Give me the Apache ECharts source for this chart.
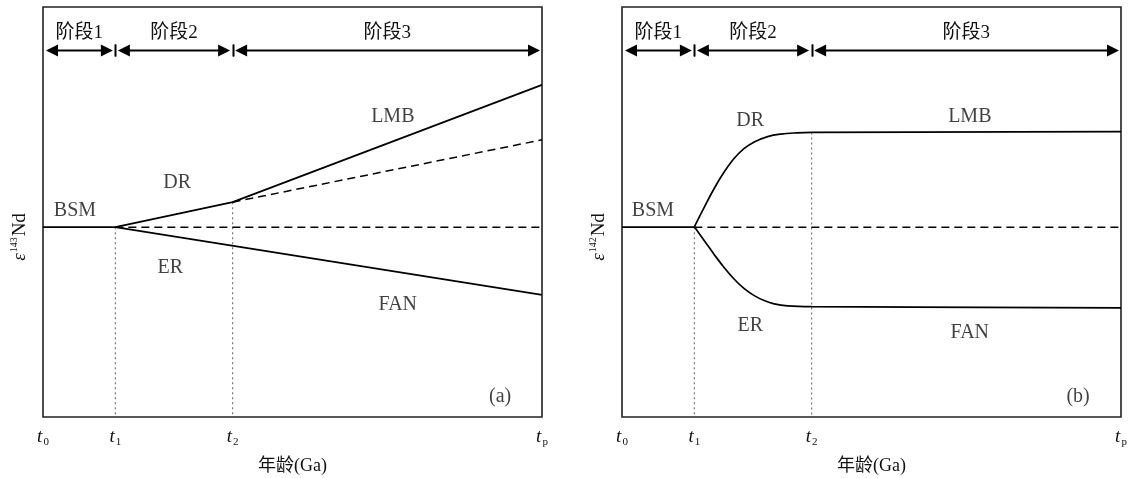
<!DOCTYPE html>
<html>
<head>
<meta charset="utf-8">
<script src="https://cdn.jsdelivr.net/npm/echarts@6/dist/echarts.min.js"></script>
<style>html,body{margin:0;padding:0;background:#fff}#c{width:1133px;height:478px}</style>
</head>
<body>
<div id="c"></div>
<script>
// ---- data ----
const stageNames = ['阶段1', '阶段2', '阶段3'];
const stageBounds = [0, 14.5, 38, 100];
const tickValues = [0, 14.5, 38, 100];
const tickSubs = ['0', '1', '2', 'p'];
const xAxisTitle = '年龄(Ga)';
const panelYNames = ['143', '142'];

// panel (a): ε143Nd
const aBSM = [[0, 46.3], [14.5, 46.3]];
const aBaseDash = [[14.5, 46.3], [100, 46.3]];
const aUpper = [[14.5, 46.3], [38, 52.4], [100, 81.0]];
const aUpperDash = [[38, 52.4], [100, 67.6]];
const aLower = [[14.5, 46.3], [100, 29.8]];
const aGuide1 = [[14.5, 46.3], [14.5, 0]];
const aGuide2 = [[38, 52.4], [38, 0]];
const aLabelNames = ['BSM', 'DR', 'ER', 'LMB', 'FAN', '(a)'];
const aLabelAt = [[6.4, 50.2], [26.9, 57.1], [25.5, 36.3], [70.1, 73.2], [71.1, 27.3], [91.6, 4.9]];

// panel (b): ε142Nd
const bBSM = [[0, 46.3], [14.5, 46.3]];
const bBaseDash = [[14.5, 46.3], [100, 46.3]];
const bUpper = [[14.5, 46.4], [16.5, 51.2], [18.5, 55.8], [20.5, 59.8], [22.5, 63.1], [24.5, 65.5],
  [26.5, 67.1], [29.2, 68.4], [31.8, 69.0], [35, 69.3], [38, 69.4], [100, 69.6]];
const bLower = [[14.5, 46.4], [16.5, 43.0], [18.5, 39.6], [20.5, 36.4], [22.5, 33.6], [24.5, 31.3],
  [26.5, 29.6], [28.5, 28.4], [30.5, 27.6], [33.2, 27.1], [38, 26.9], [100, 26.6]];
const bGuide1 = [[14.5, 46.3], [14.5, 0]];
const bGuide2 = [[38, 69.4], [38, 0]];
const bLabelNames = ['BSM', 'DR', 'ER', 'LMB', 'FAN', '(b)'];
const bLabelAt = [[6.2, 50.2], [25.7, 72.2], [25.7, 22.2], [69.7, 73.2], [69.7, 20.5], [91.4, 4.9]];

// ---- styling / layout ----
const SERIF = '"Liberation Serif", "Noto Sans CJK SC", serif';
const INK = '#111';
const ARROW_Y = 89.5;
const STAGE_LABEL_Y = 93.6;

const chart = echarts.init(document.getElementById('c'), null, {renderer: 'canvas'});

function xAxisFor(gi) {
  return {
    gridIndex: gi, type: 'value', min: 0, max: 100,
    axisLine: {show: false}, axisTick: {show: false}, splitLine: {show: false},
    axisLabel: {
      customValues: tickValues, margin: 9,
      formatter: function (v) {
        const i = tickValues.indexOf(v);
        return '{t|t}{s|' + (i >= 0 ? tickSubs[i] : '') + '}';
      },
      rich: {
        t: {fontFamily: SERIF, fontStyle: 'italic', fontSize: 19, color: INK, lineHeight: 22},
        s: {fontFamily: SERIF, fontSize: 11, color: INK, lineHeight: 22, padding: [10, 0, 0, 1]}
      }
    },
    name: xAxisTitle, nameLocation: 'middle', nameGap: 40,
    nameTextStyle: {fontFamily: SERIF, fontSize: 18, color: INK}
  };
}
function yAxisFor(gi, sup) {
  return {
    gridIndex: gi, type: 'value', min: 0, max: 100,
    axisLine: {show: false}, axisTick: {show: false}, splitLine: {show: false}, axisLabel: {show: false},
    name: '{e|ε}{s|' + sup + '}{n|Nd}', nameLocation: 'middle', nameGap: 12, nameRotate: 90,
    nameTextStyle: {
      padding: [0, 50, 0, 0],
      rich: {
        e: {fontFamily: SERIF, fontStyle: 'italic', fontSize: 19, color: INK, lineHeight: 22},
        s: {fontFamily: SERIF, fontSize: 10, color: INK, lineHeight: 22, padding: [0, 1, 11, 1]},
        n: {fontFamily: SERIF, fontSize: 19, color: INK, lineHeight: 22}
      }
    }
  };
}
function solid(gi, data, smooth) {
  return {type: 'line', xAxisIndex: gi, yAxisIndex: gi, data: data, showSymbol: false, symbol: 'none',
    smooth: smooth || false, silent: true, lineStyle: {color: '#000', width: 1.7}, z: 3};
}
function dashed(gi, data) {
  return {type: 'line', xAxisIndex: gi, yAxisIndex: gi, data: data, showSymbol: false, symbol: 'none',
    silent: true, lineStyle: {color: '#000', width: 1.5, type: [8, 5]}, z: 2};
}
function guide(gi, data) {
  return {type: 'line', xAxisIndex: gi, yAxisIndex: gi, data: data, showSymbol: false, symbol: 'none',
    silent: true, lineStyle: {color: '#777', width: 1.2, type: [2, 3]}, z: 1};
}
function labels(gi, names, at) {
  return {type: 'scatter', xAxisIndex: gi, yAxisIndex: gi, symbolSize: 0, silent: true,
    data: names.map((n, i) => ({name: n, value: at[i]})),
    label: {show: true, position: 'inside', formatter: '{b}', fontFamily: SERIF, fontSize: 20, color: INK}};
}
function stages(gi) {
  const data = stageNames.map((n, i) => [stageBounds[i], stageBounds[i + 1], i]);
  return {
    type: 'custom', xAxisIndex: gi, yAxisIndex: gi, silent: true, z: 5, data: data,
    renderItem: function (params, api) {
      const x0 = api.value(0), x1 = api.value(1), idx = api.value(2);
      const p0 = api.coord([x0, ARROW_Y]), p1 = api.coord([x1, ARROW_Y]);
      const pl = api.coord([(x0 + x1) / 2, STAGE_LABEL_Y]);
      const y = Math.round(p0[1]) + 0.5;
      const gapL = x0 <= 0 ? 3 : 2.5, gapR = x1 >= 100 ? 2 : 2.5;
      const L = 12, H = 6;
      const lt = p0[0] + gapL, rt = p1[0] - gapR;
      const children = [
        {type: 'line', shape: {x1: lt + L - 1, y1: y, x2: rt - L + 1, y2: y}, style: {stroke: '#000', lineWidth: 1.8}},
        {type: 'polygon', shape: {points: [[lt, y], [lt + L, y - H], [lt + L, y + H]]}, style: {fill: '#000'}},
        {type: 'polygon', shape: {points: [[rt, y], [rt - L, y - H], [rt - L, y + H]]}, style: {fill: '#000'}},
        {type: 'text', style: {text: stageNames[idx], x: pl[0], y: pl[1], align: 'center', verticalAlign: 'middle',
          font: '19px ' + SERIF, fill: INK}}
      ];
      if (x0 > 0) children.push({type: 'line', shape: {x1: Math.round(p0[0]) + 0.5, y1: y - 6, x2: Math.round(p0[0]) + 0.5, y2: y + 6}, style: {stroke: '#000', lineWidth: 1.6}});
      if (x1 < 100) children.push({type: 'line', shape: {x1: Math.round(p1[0]) + 0.5, y1: y - 6, x2: Math.round(p1[0]) + 0.5, y2: y + 6}, style: {stroke: '#000', lineWidth: 1.6}});
      return {type: 'group', children: children};
    }
  };
}

const option = {
  animation: false,
  backgroundColor: '#fff',
  grid: [
    {left: 43, top: 7, width: 499, height: 410, outerBoundsMode: 'none', containLabel: false, show: true, borderColor: '#222', borderWidth: 1.6, backgroundColor: 'transparent'},
    {left: 622, top: 7, width: 499, height: 410, outerBoundsMode: 'none', containLabel: false, show: true, borderColor: '#222', borderWidth: 1.6, backgroundColor: 'transparent'}
  ],
  xAxis: [xAxisFor(0), xAxisFor(1)],
  yAxis: [yAxisFor(0, panelYNames[0]), yAxisFor(1, panelYNames[1])],
  series: [
    guide(0, aGuide1), guide(0, aGuide2),
    dashed(0, aBaseDash), dashed(0, aUpperDash),
    solid(0, aBSM), solid(0, aUpper), solid(0, aLower),
    labels(0, aLabelNames, aLabelAt), stages(0),
    guide(1, bGuide1), guide(1, bGuide2),
    dashed(1, bBaseDash),
    solid(1, bBSM), solid(1, bUpper, 0.4), solid(1, bLower, 0.4),
    labels(1, bLabelNames, bLabelAt), stages(1)
  ]
};
chart.setOption(option);
</script>
</body>
</html>
